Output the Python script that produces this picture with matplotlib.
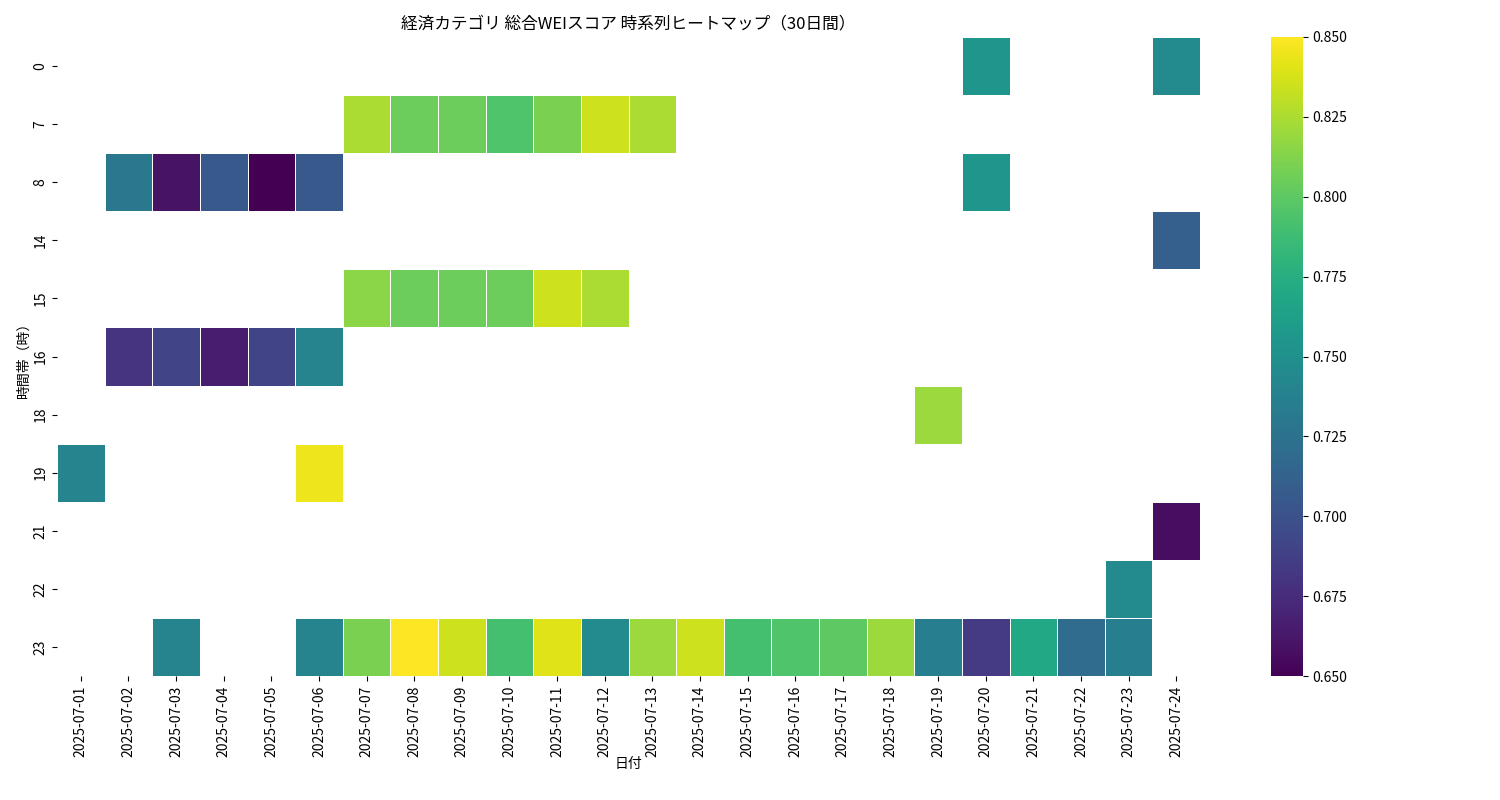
import numpy as np, pandas as pd
import matplotlib
matplotlib.use("Agg")
import matplotlib.pyplot as plt
import seaborn as sns
plt.rcParams["font.family"] = "Noto Sans CJK JP"

dates = [f"2025-07-{d:02d}" for d in range(1, 25)]
hours = [0, 7, 8, 14, 15, 16, 18, 19, 21, 22, 23]
cells = {
    0: {"07-20": 0.755, "07-24": 0.745},
    7: {"07-07": 0.825, "07-08": 0.805, "07-09": 0.805, "07-10": 0.795, "07-11": 0.81, "07-12": 0.835, "07-13": 0.825},
    8: {"07-02": 0.73, "07-03": 0.66, "07-04": 0.705, "07-05": 0.65, "07-06": 0.705, "07-20": 0.755},
    14: {"07-24": 0.71},
    15: {"07-07": 0.815, "07-08": 0.805, "07-09": 0.805, "07-10": 0.805, "07-11": 0.835, "07-12": 0.825},
    16: {"07-02": 0.68, "07-03": 0.69, "07-04": 0.665, "07-05": 0.69, "07-06": 0.74},
    18: {"07-19": 0.82},
    19: {"07-01": 0.74, "07-06": 0.845},
    21: {"07-24": 0.657},
    22: {"07-23": 0.745},
    23: {"07-03": 0.74, "07-06": 0.74, "07-07": 0.81, "07-08": 0.85, "07-09": 0.835, "07-10": 0.79,
         "07-11": 0.84, "07-12": 0.745, "07-13": 0.82, "07-14": 0.835, "07-15": 0.79, "07-16": 0.795,
         "07-17": 0.80, "07-18": 0.82, "07-19": 0.735, "07-20": 0.685, "07-21": 0.77, "07-22": 0.72,
         "07-23": 0.735},
}
df = pd.DataFrame(np.nan, index=hours, columns=dates)
for h, row in cells.items():
    for d, v in row.items():
        df.loc[h, "2025-" + d] = v

fig = plt.figure(figsize=(15, 8), dpi=100)
ax = fig.add_axes([57/1500, 1-676/800, (1200-57)/1500, (676-37)/800])
cax = fig.add_axes([1271/1500, 1-676/800, 32/1500, (676-37)/800])
sns.heatmap(df, cmap="viridis", vmin=0.65, vmax=0.85, linewidths=0.5, linecolor="white", ax=ax, cbar_ax=cax)
ax.set_title("経済カテゴリ 総合WEIスコア 時系列ヒートマップ（30日間）")
ax.set_xlabel("日付", labelpad=0)
ax.set_ylabel("時間帯（時）", labelpad=2)
plt.setp(ax.get_xticklabels(), rotation=90)
fig.savefig("out.png")
